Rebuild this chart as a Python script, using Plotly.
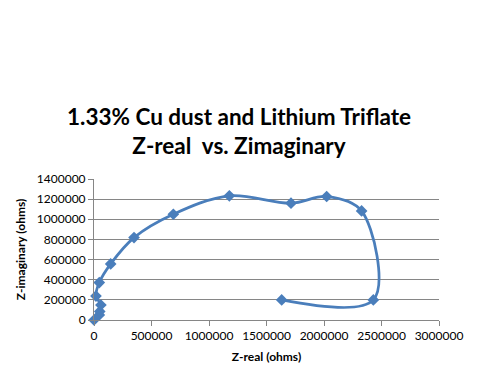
import plotly.graph_objects as go

z_real = [0, 46000, 50000, 60000, 17000, 46000, 145000, 348000, 690000,
          1177000, 1713000, 2023000, 2327000, 2429000, 1632000]
z_imag = [0, 50000, 85000, 149000, 238000, 372000, 557000, 818000, 1050000,
          1233000, 1160000, 1226000, 1083000, 199000, 199000]

title_text = "1.33% Cu dust and Lithium Triflate<br>Z-real  vs. Zimaginary"
x_title = "Z-real (ohms)"
y_title = "Z-imaginary (ohms)"

blue = "#4A7EBB"
grid = "#868686"
font = "Lato"

fig = go.Figure()
fig.add_trace(go.Scatter(
    x=z_real, y=z_imag, mode="lines+markers",
    line=dict(color=blue, width=2.75, shape="spline", smoothing=1.0),
    marker=dict(symbol="diamond", size=9, color=blue),
    cliponaxis=False,
    showlegend=False,
))

fig.update_layout(
    width=478, height=384,
    margin=dict(l=94, r=39, t=179, b=64),
    paper_bgcolor="white", plot_bgcolor="white",
    font=dict(family=font, color="black", size=12),
    title=dict(text="<b>" + title_text + "</b>", x=0.5, xanchor="center",
               y=1 - 125 / 384, yanchor="top", yref="container",
               font=dict(family=font, size=22.5, color="black")),
    xaxis=dict(range=[0, 3000000], dtick=500000, tickformat="d",
               showgrid=False, showline=True, linecolor=grid, linewidth=1,
               ticks="outside", ticklen=5, tickcolor=grid,
               zeroline=False, tickfont=dict(size=12), automargin=False,
               title=dict(text="<b>" + x_title + "</b>", font=dict(size=12), standoff=10)),
    yaxis=dict(range=[0, 1400000], dtick=200000, tickformat="d",
               showgrid=True, gridcolor=grid, gridwidth=1,
               showline=True, linecolor=grid, linewidth=1,
               ticks="outside", ticklen=5, tickcolor=grid,
               zeroline=False, tickfont=dict(size=12), automargin=False,
               title=dict(text="<b>" + y_title + "</b>", font=dict(size=12), standoff=8)),
)

fig.write_html("out.html", config={"displayModeBar": False},
               post_script="document.body.style.margin='0';")
